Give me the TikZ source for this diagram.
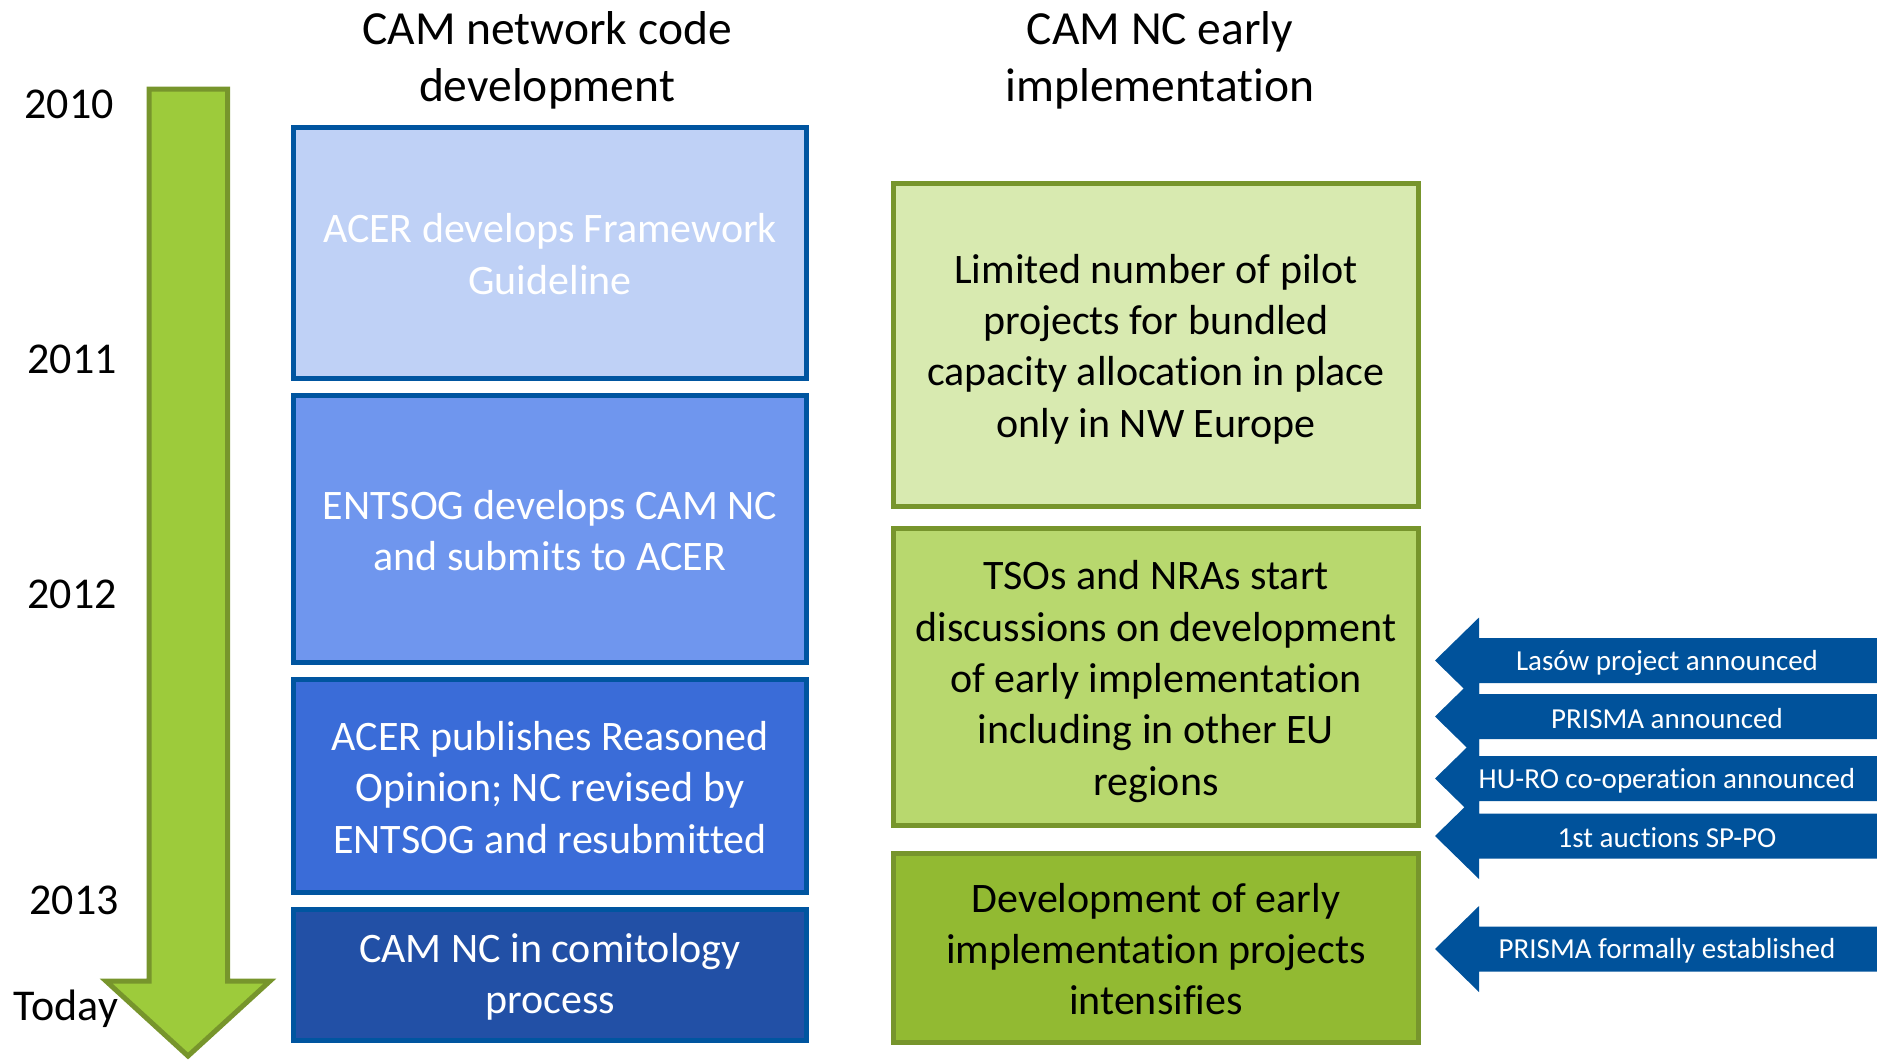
\documentclass[tikz,border=0pt]{standalone}
\usepackage{fontspec}
\setmainfont[Ligatures={NoCommon}]{Carlito}
\definecolor{bord}{HTML}{0055A0}
\definecolor{bA}{HTML}{BFD1F6}
\definecolor{bB}{HTML}{6F96EE}
\definecolor{bC}{HTML}{3A6CD8}
\definecolor{bD}{HTML}{2250A6}
\definecolor{gbord}{HTML}{77952C}
\definecolor{gA}{HTML}{D8EAB0}
\definecolor{gB}{HTML}{B8D86E}
\definecolor{gC}{HTML}{92BA32}
\definecolor{garrow}{HTML}{9DCB3B}
\definecolor{barrow}{HTML}{00529B}
\begin{document}
\begin{tikzpicture}[x=1pt,y=-1pt,
  bluebox/.style={draw=bord,line width=5pt,minimum width=513pt,inner sep=0pt},
  greenbox/.style={draw=gbord,line width=5pt,minimum width=525pt,inner sep=0pt},
  boxtext/.style={align=center,font=\fontsize{42}{51.3}\selectfont,inner sep=0pt},
  title/.style={align=center,font=\fontsize{47.5}{57.5}\selectfont,inner sep=0pt},
  year/.style={font=\fontsize{44}{50}\selectfont,inner sep=0pt},
  evarrow/.style={fill=barrow,draw=none},
  evtext/.style={text=white,font=\fontsize{29}{34}\selectfont,inner sep=0pt}]
\useasboundingbox (0,0) rectangle (1877,1060);
% titles
\node[title] (t1) at (547,60.5) {CAM network code\\development};
\node[title] (t2) at (1160,60.5) {CAM NC early\\implementation};
% years
\node[year] (y0) at (69,104) {2010};
\node[year] (y1) at (72,359) {2011};
\node[year] (y2) at (72,594) {2012};
\node[year] (y3) at (74,900) {2013};
\node[year] (y4) at (66,1009) {Today};
% green timeline arrow
\draw[fill=garrow,draw=gbord,line width=5pt] (149,89) -- (227.5,89) -- (227.5,981) -- (270,981)
  -- (188,1056) -- (106,981) -- (149,981) -- cycle;
% blue boxes
\node[bluebox,fill=bA,minimum height=251pt] (b1) at (550,252.5) {};
\node[bluebox,fill=bB,minimum height=267.5pt] (b2) at (550,529) {};
\node[bluebox,fill=bC,minimum height=212.5pt] (b3) at (550,786) {};
\node[bluebox,fill=bD,minimum height=130.5pt] (b4) at (550,975) {};
\node[boxtext,text=white] (b1t) at ([yshift=-1.5pt]b1.center) {ACER develops Framework\\Guideline};
\node[boxtext,text=white] (b2t) at ([yshift=-1.5pt]b2.center) {ENTSOG develops CAM NC\\and submits to ACER};
\node[boxtext,text=white] (b3t) at ([yshift=-1.5pt]b3.center) {ACER publishes Reasoned\\Opinion; NC revised by\\ENTSOG and resubmitted};
\node[boxtext,text=white] (b4t) at ([yshift=-1.5pt]b4.center) {CAM NC in comitology\\process};
% green boxes
\node[greenbox,fill=gA,minimum height=323pt] (g1) at (1156,344.5) {};
\node[greenbox,fill=gB,minimum height=296.5pt] (g2) at (1156,677) {};
\node[greenbox,fill=gC,minimum height=189pt] (g3) at (1156,948) {};
\node[boxtext] (g1t) at ([yshift=-4.5pt]g1.center) {Limited number of pilot\\projects for bundled\\capacity allocation in place\\only in NW Europe};
\node[boxtext] (g2t) at ([yshift=-4.5pt]g2.center) {TSOs and NRAs start\\discussions on development\\of early implementation\\including in other EU\\regions};
\node[boxtext] (g3t) at ([yshift=-1pt]g3.center) {Development of early\\implementation projects\\intensifies};
% event arrows
\foreach \yc/\nm/\txt in {660.5/e1/{Lasów project announced},716.5/e2/{PRISMA announced},778.5/e3/{HU-RO co-operation announced},836/e4/{1st auctions SP-PO},949/e5/{PRISMA formally established}}{
  \fill[evarrow] (1435,\yc) -- (1479,\yc-43) -- (1479,\yc-22.5) -- (1877,\yc-22.5)
    -- (1877,\yc+22.5) -- (1479,\yc+22.5) -- (1479,\yc+43) -- cycle;
  \node[evtext] (\nm) at (1667,\yc+2) {\txt};
}
\end{tikzpicture}
\end{document}
